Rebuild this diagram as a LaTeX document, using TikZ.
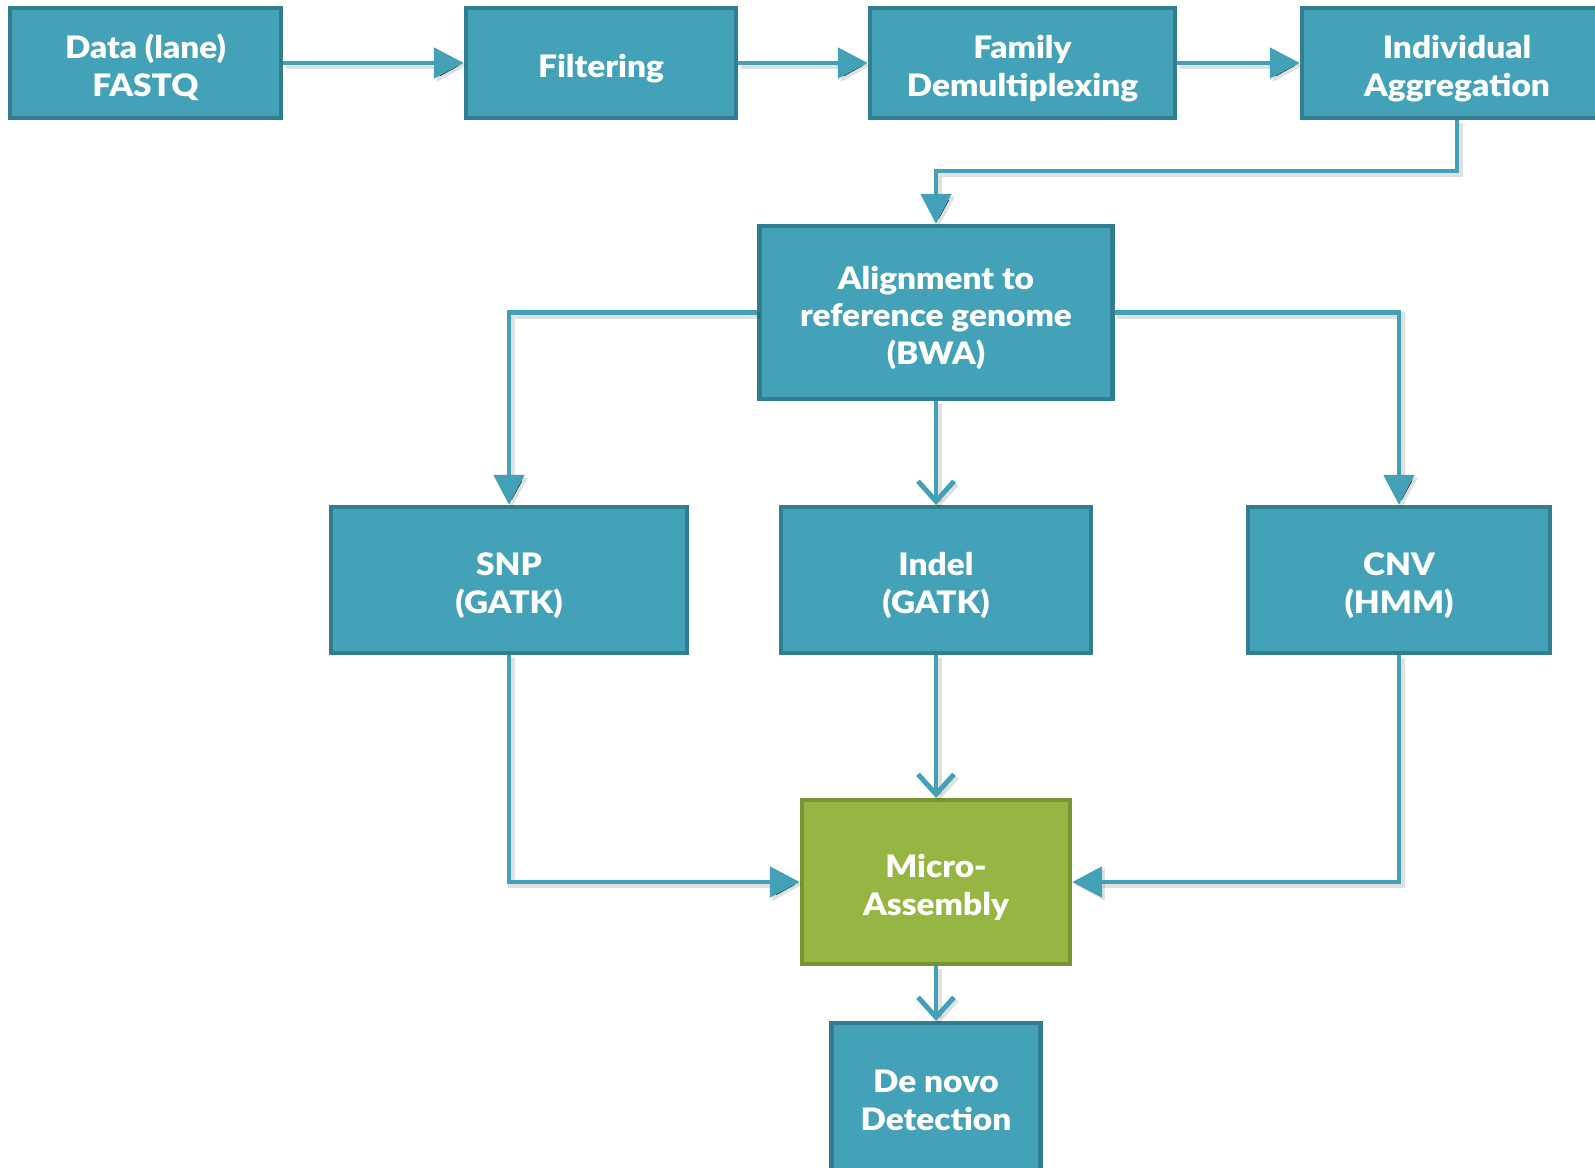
\documentclass[tikz,border=0pt]{standalone}
\usepackage{fontspec}
\setmainfont{Lato}[BoldFont={Lato Black}, BoldFeatures={FakeStretch=1.08}]
\usepackage{tikz}
\usetikzlibrary{arrows.meta,calc}
\definecolor{boxfill}{HTML}{44A2B8}
\definecolor{boxline}{HTML}{317E90}
\definecolor{asmfill}{HTML}{96B643}
\definecolor{asmline}{HTML}{779530}
\definecolor{flowline}{HTML}{42A1B7}
\newcommand\topstrut{\rule{0pt}{26.5pt}}
\newcommand\botstrut{\rule[-6pt]{0pt}{0pt}}
\tikzset{
  stage/.style={draw=boxline, fill=boxfill, line width=3pt, text=white, align=center,
    font=\fontsize{22}{26.7}\selectfont\bfseries, inner sep=0pt},
  asm/.style={stage, draw=asmline, fill=asmfill},
  shade line/.style={preaction={draw=black, draw opacity=0.12, line width=5pt,
    transform canvas={xshift=2pt,yshift=-2pt}}},
  flow/.style={shade line, draw=flowline, line width=3.5pt, -{Triangle[length=0.75cm,width=0.75cm]}},
  flowv/.style={shade line, draw=flowline, line width=3.5pt, -{Straight Barb[length=0.5cm,width=0.9cm,line width=3.5pt]}}
}
\begin{document}
\begin{tikzpicture}[x=0.025cm,y=-0.025cm]
\useasboundingbox (0,0) rectangle (1595,1167);
\node[stage, minimum width=271*0.025cm, minimum height=110*0.025cm] (data) at (145.5,63) {\topstrut Data (lane)\\FASTQ\botstrut};
\node[stage, minimum width=270*0.025cm, minimum height=110*0.025cm] (filt) at (601,63) {\topstrut Filtering\botstrut};
\node[stage, minimum width=305*0.025cm, minimum height=110*0.025cm] (fam) at (1022.5,63) {\topstrut Family\\Demultiplexing\botstrut};
\node[stage, minimum width=310*0.025cm, minimum height=110*0.025cm] (indiv) at (1457,63) {\topstrut Individual\\Aggregation\botstrut};
\node[stage, minimum width=353*0.025cm, minimum height=173*0.025cm] (align) at (936,312.5) {\topstrut Alignment to\\reference genome\\(BWA)\botstrut};
\node[stage, minimum width=356*0.025cm, minimum height=146*0.025cm] (snp) at (509,580) {\topstrut SNP\\(GATK)\botstrut};
\node[stage, minimum width=310*0.025cm, minimum height=146*0.025cm] (indel) at (936,580) {\topstrut Indel\\(GATK)\botstrut};
\node[stage, minimum width=302*0.025cm, minimum height=146*0.025cm] (cnv) at (1399,580) {\topstrut CNV\\(HMM)\botstrut};
\node[asm, minimum width=268*0.025cm, minimum height=164*0.025cm] (micro) at (936,882) {\topstrut Micro-\\Assembly\botstrut};
\node[stage, minimum width=209*0.025cm, minimum height=148*0.025cm] (denovo) at (936,1097) {\topstrut De novo\\Detection\botstrut};
\coordinate (turn) at (936,171);
\draw[flow] (data) -- (filt);
\draw[flow] (filt) -- (fam);
\draw[flow] (fam) -- (indiv);
\draw[flow] (indiv.south) |- (turn) -- (align.north);
\draw[flow] (align.west) -| (snp.north);
\draw[flow] (align.east) -| (cnv.north);
\draw[flowv] (align) -- (indel);
\draw[flow] (snp.south) |- (micro.west);
\draw[flow] (cnv.south) |- (micro.east);
\draw[flowv] (indel) -- (micro);
\draw[flowv] (micro) -- (denovo);
\end{tikzpicture}
\end{document}
